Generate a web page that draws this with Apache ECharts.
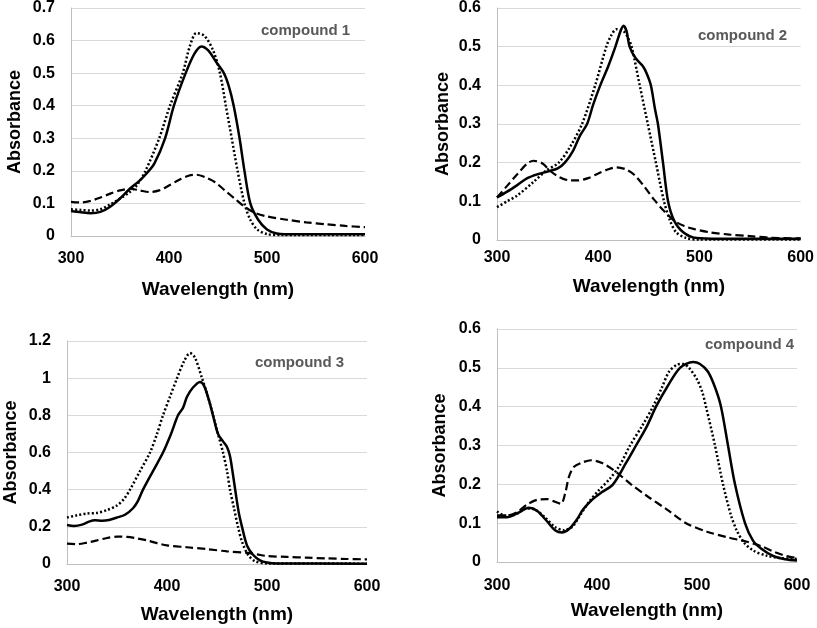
<!DOCTYPE html>
<html><head><meta charset="utf-8">
<script src="https://cdn.jsdelivr.net/npm/echarts@6/dist/echarts.min.js"></script>
<style>html,body{margin:0;padding:0;background:#fff}#c{width:817px;height:628px}</style>
</head><body><div id="c"></div>
<script>
const xMin = 300, xMax = 600, xInterval = 100;
const yMaxes = [0.7, 0.6, 1.2, 0.6];
const yIntervals = [0.1, 0.1, 0.2, 0.1];
const compoundLabels = ['compound 1', 'compound 2', 'compound 3', 'compound 4'];

const c1Solid = [[300,0.077],[310,0.073],[320,0.07],[330,0.074],[340,0.09],[350,0.115],[360,0.145],[370,0.17],[378,0.195],[385,0.222],[396,0.3],[405,0.4],[417,0.5],[426,0.56],[433,0.582],[440,0.57],[448,0.535],[456,0.5],[461,0.46],[466,0.4],[472,0.3],[477,0.2],[483,0.1],[491,0.05],[500,0.02],[510,0.008],[530,0.005],[600,0.005]];
const c1Dotted = [[300,0.082],[310,0.08],[320,0.078],[330,0.082],[340,0.097],[350,0.115],[360,0.135],[367,0.155],[376,0.2],[390,0.3],[401,0.4],[414,0.5],[421,0.58],[428,0.623],[436,0.615],[445,0.57],[452,0.5],[458,0.4],[464,0.3],[470,0.2],[477,0.1],[483,0.05],[490,0.02],[500,0.006],[515,0.003],[600,0.003]];
const c1Dashed = [[300,0.105],[310,0.103],[320,0.108],[330,0.118],[340,0.13],[350,0.14],[360,0.145],[370,0.14],[380,0.135],[390,0.14],[400,0.155],[410,0.172],[420,0.185],[428,0.188],[437,0.18],[447,0.165],[457,0.14],[467,0.115],[477,0.09],[487,0.072],[500,0.06],[520,0.05],[540,0.042],[560,0.036],[580,0.031],[600,0.027]];

const c2Solid = [[300,0.11],[310,0.125],[320,0.142],[330,0.16],[340,0.17],[350,0.177],[360,0.185],[367,0.2],[375,0.23],[382,0.27],[389,0.3],[395,0.35],[402,0.4],[410,0.45],[417,0.5],[422,0.54],[425,0.554],[428,0.54],[431,0.5],[437,0.47],[444,0.45],[448,0.43],[452,0.4],[456,0.34],[459,0.3],[464,0.2],[469,0.1],[475,0.05],[484,0.02],[497,0.005],[520,0.003],[600,0.003]];
const c2Dotted = [[300,0.085],[310,0.1],[320,0.115],[336,0.15],[349,0.18],[361,0.2],[372,0.24],[384,0.3],[397,0.4],[408,0.5],[413,0.53],[418,0.545],[425,0.54],[429,0.525],[433,0.5],[441,0.4],[449,0.3],[457,0.2],[465,0.1],[471,0.05],[477,0.02],[487,0.005],[500,0.001],[600,0.001]];
const c2Dashed = [[300,0.11],[310,0.14],[320,0.17],[330,0.198],[336,0.205],[345,0.198],[352,0.18],[360,0.165],[370,0.155],[380,0.154],[390,0.16],[400,0.172],[410,0.183],[418,0.188],[427,0.183],[435,0.17],[445,0.14],[455,0.105],[465,0.075],[475,0.05],[485,0.036],[495,0.028],[510,0.02],[530,0.014],[550,0.01],[570,0.006],[600,0.004]];

const c3Solid = [[300,0.21],[307,0.205],[315,0.212],[322,0.228],[328,0.235],[335,0.233],[342,0.237],[350,0.25],[358,0.265],[366,0.3],[371,0.34],[376,0.4],[386,0.5],[396,0.6],[404,0.7],[411,0.8],[416,0.84],[420,0.9],[426,0.95],[433,0.98],[437,0.96],[442,0.88],[446,0.8],[451,0.7],[456,0.66],[460,0.63],[463,0.58],[466,0.48],[469,0.37],[472,0.27],[475,0.2],[480,0.1],[486,0.05],[493,0.02],[500,0.008],[510,0.003],[600,0.002]];
const c3Dotted = [[300,0.25],[310,0.262],[320,0.272],[330,0.275],[340,0.29],[350,0.315],[357,0.35],[363,0.4],[373,0.5],[383,0.6],[390,0.7],[396,0.8],[403,0.9],[410,1.0],[417,1.09],[423,1.135],[428,1.11],[435,1.0],[441,0.9],[446,0.8],[451,0.7],[456,0.6],[460,0.5],[463,0.4],[467,0.3],[471,0.2],[475,0.12],[481,0.05],[488,0.015],[500,0.003],[600,0.002]];
const c3Dashed = [[300,0.11],[310,0.107],[320,0.115],[330,0.127],[340,0.14],[350,0.147],[360,0.146],[370,0.138],[380,0.127],[390,0.112],[400,0.1],[420,0.09],[440,0.08],[460,0.068],[480,0.06],[490,0.052],[500,0.043],[520,0.038],[540,0.034],[560,0.03],[580,0.027],[600,0.025]];

const c4Solid = [[300,0.115],[310,0.115],[320,0.125],[332,0.14],[340,0.132],[350,0.105],[358,0.082],[365,0.076],[372,0.085],[380,0.11],[386,0.135],[395,0.16],[405,0.18],[416,0.2],[429,0.255],[439,0.3],[450,0.35],[459,0.4],[470,0.45],[483,0.5],[496,0.515],[503,0.51],[511,0.49],[518,0.45],[524,0.4],[531,0.3],[538,0.2],[548,0.1],[556,0.055],[564,0.035],[576,0.016],[588,0.007],[600,0.004]];
const c4Dotted = [[300,0.13],[308,0.12],[318,0.122],[330,0.138],[338,0.135],[348,0.115],[358,0.09],[367,0.082],[375,0.09],[383,0.12],[392,0.155],[402,0.185],[413,0.215],[423,0.25],[433,0.3],[445,0.35],[456,0.4],[465,0.45],[472,0.49],[480,0.508],[486,0.51],[492,0.5],[500,0.47],[505,0.44],[509,0.4],[518,0.3],[526,0.2],[534,0.12],[540,0.08],[547,0.05],[556,0.03],[570,0.016],[585,0.01],[600,0.008]];
const c4Dashed = [[300,0.12],[310,0.12],[320,0.128],[330,0.148],[340,0.16],[350,0.162],[358,0.155],[364,0.15],[368,0.175],[372,0.22],[377,0.245],[385,0.256],[394,0.262],[405,0.255],[419,0.232],[434,0.2],[450,0.17],[470,0.135],[489,0.1],[510,0.078],[530,0.064],[550,0.052],[565,0.04],[578,0.025],[590,0.015],[600,0.01]];

const panels = [
  [c1Solid, c1Dotted, c1Dashed],
  [c2Solid, c2Dotted, c2Dashed],
  [c3Solid, c3Dotted, c3Dashed],
  [c4Solid, c4Dotted, c4Dashed]
];

const FONT = '"Liberation Sans", Arial, sans-serif';
const layout = [
  {grid:{left:71, top:7, width:294, height:229}, yGap:47, xGap:44, xLm:15, label:[261,32]},
  {grid:{left:497, top:7, width:305, height:233}, yGap:45, xGap:37, xLm:10, label:[698,37]},
  {grid:{left:67, top:341, width:300, height:223}, yGap:47, xGap:41, xLm:15, label:[255,364]},
  {grid:{left:497, top:329, width:300, height:233}, yGap:48, xGap:39, xLm:16, label:[705,346]}
];

const grid = [], xAxis = [], yAxis = [], series = [], graphic = [];
layout.forEach((L, i) => {
  grid.push(L.grid);
  xAxis.push({
    type:'value', gridIndex:i, min:xMin, max:xMax, interval:xInterval,
    name:'Wavelength (nm)', nameLocation:'middle', nameGap:L.xGap,
    nameTextStyle:{fontFamily:FONT, fontWeight:'bold', fontSize:19, color:'#000'},
    axisLine:{show:true, onZero:false, lineStyle:{color:'#bfbfbf', width:1}},
    axisTick:{show:false}, splitLine:{show:false},
    axisLabel:{fontFamily:FONT, fontWeight:'bold', fontSize:16, color:'#000', margin:L.xLm}
  });
  yAxis.push({
    type:'value', gridIndex:i, min:0, max:yMaxes[i], interval:yIntervals[i],
    name:'Absorbance', nameLocation:'middle', nameGap:L.yGap, nameRotate:90,
    nameTextStyle:{fontFamily:FONT, fontWeight:'bold', fontSize:18, color:'#000'},
    axisLine:{show:true, lineStyle:{color:'#bfbfbf', width:1}},
    axisTick:{show:false},
    splitLine:{show:true, lineStyle:{color:'#d9d9d9', width:1}},
    axisLabel:{fontFamily:FONT, fontWeight:'bold', fontSize:16, color:'#000', margin:16,
      formatter: v => String(+v.toFixed(1))}
  });
  const styles = [
    {type:'solid', width:2.5},
    {type:[2,2.2], width:2.5},
    {type:[8,4], width:2.2}
  ];
  panels[i].forEach((d, k) => {
    series.push({
      type:'line', xAxisIndex:i, yAxisIndex:i, data:d, smooth:0.3,
      showSymbol:false, symbol:'none', silent:true, animation:false,
      lineStyle:Object.assign({color:'#000'}, styles[k])
    });
  });
  graphic.push({
    type:'text', left:L.label[0], top:L.label[1]-9,
    style:{text:compoundLabels[i], font:'bold 15px ' + FONT, fill:'#595959'}
  });
});

const chart = echarts.init(document.getElementById('c'), null, {renderer:'canvas'});
chart.setOption({animation:false, backgroundColor:'#fff', grid, xAxis, yAxis, series, graphic});
</script></body></html>
